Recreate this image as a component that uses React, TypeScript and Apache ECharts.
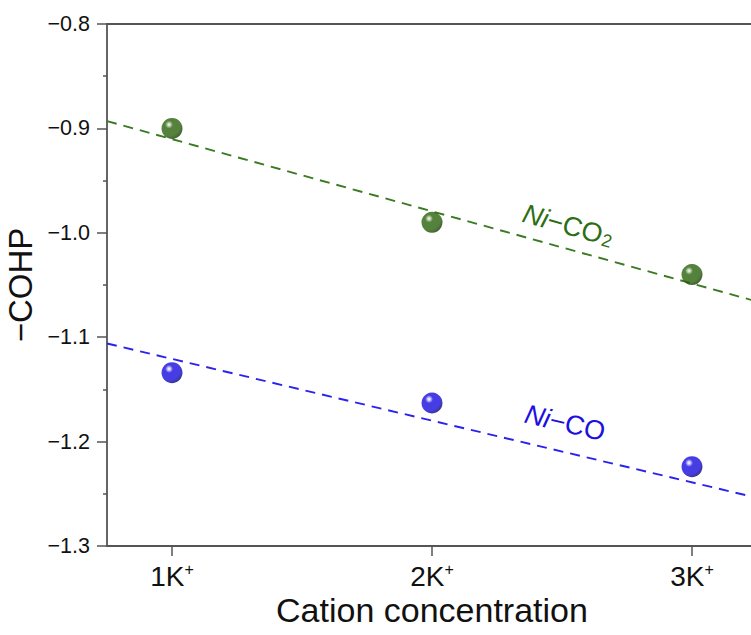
import React, { useEffect, useRef } from "react";
import * as echarts from "echarts";

// Cation concentration positions and their labels
const catPositions = [1, 2, 3];
const catLabels = ["1K", "2K", "3K"];

// −COHP values for each bond
const niCO2Values = [-0.9, -0.99, -1.04];
const niCOValues = [-1.134, -1.163, -1.224];

// dashed trend lines, given by their values at the two ends of the x range
const xRange = [0.75, 4.25];
const niCO2Trend = [-0.893, -1.135];
const niCOTrend = [-1.106, -1.313];

// y axis
const yMin = -1.3;
const yMax = -0.8;
const yStep = 0.1;

const AXIS = "#555555";
const TEXT = "#111111";
const GREEN = { text: "#2c6e14", line: "#3a7a20", hi: "#b8d0a4", base: "#2a620c", dark: "#143603" };
const BLUE = { text: "#1c10e0", line: "#2a22ee", hi: "#c8c4ff", base: "#180cde", dark: "#060270" };
const FONT = "Liberation Sans, Arial, Helvetica, sans-serif";

const sphere = (c: typeof GREEN) =>
  new echarts.graphic.RadialGradient(0.36, 0.32, 0.72, [
    { offset: 0, color: "#ffffff" },
    { offset: 0.09, color: c.hi },
    { offset: 0.26, color: c.base },
    { offset: 0.75, color: c.base },
    { offset: 1, color: c.dark },
  ]);

const pairs = (xs: number[], ys: number[]) => xs.map((x, i) => [x, ys[i]]);

export default function App() {
  const ref = useRef<HTMLDivElement>(null);

  useEffect(() => {
    if (!ref.current) return;
    const chart = echarts.init(ref.current, undefined, { renderer: "svg" });

    // the plot runs on past the right edge of the canvas
    const option: any = {
      animation: false,
      backgroundColor: "#ffffff",
      textStyle: { fontFamily: FONT },
      grid: { left: 107, right: -266, top: 24, bottom: 89, containLabel: false, outerBoundsMode: "none" },
      xAxis: [
        {
          type: "value",
          min: xRange[0],
          max: xRange[1],
          position: "bottom",
          axisLine: { show: true, onZero: false, lineStyle: { color: AXIS, width: 1.8 } },
          axisTick: { show: true, length: 10, customValues: catPositions, lineStyle: { color: AXIS, width: 1.5 } },
          axisLabel: {
            customValues: catPositions,
            margin: 15,
            formatter: (v: number) => {
              const i = catPositions.indexOf(Math.round(v));
              return i < 0 ? "" : `{n|${catLabels[i]}}{s|+}`;
            },
            rich: {
              n: { fontSize: 28, color: TEXT, fontFamily: FONT, lineHeight: 30 },
              s: { fontSize: 16, color: TEXT, fontFamily: FONT, verticalAlign: "top", lineHeight: 30 },
            },
          },
          splitLine: { show: false },
        },
        {
          type: "value",
          min: xRange[0],
          max: xRange[1],
          position: "top",
          axisLine: { show: true, onZero: false, lineStyle: { color: AXIS, width: 1.8 } },
          axisTick: { show: false },
          axisLabel: { show: false },
          splitLine: { show: false },
        },
      ],
      yAxis: {
        type: "value",
        min: yMin,
        max: yMax,
        interval: yStep,
        name: "\u2212COHP",
        nameLocation: "middle",
        nameGap: 67,
        nameRotate: 90,
        nameTextStyle: { fontSize: 33, color: TEXT, fontFamily: FONT },
        axisLine: { show: true, lineStyle: { color: AXIS, width: 1.8 } },
        axisTick: { show: true, length: 10, lineStyle: { color: AXIS, width: 1.5 } },
        minorTick: { show: true, splitNumber: 2, length: 4, lineStyle: { color: AXIS, width: 1.5 } },
        axisLabel: {
          margin: 17,
          fontSize: 21.5,
          color: TEXT,
          fontFamily: FONT,
          formatter: (v: number) => (v < 0 ? "\u2212" : "") + Math.abs(v).toFixed(1),
        },
        splitLine: { show: false },
      },
      series: [
        {
          type: "line",
          data: pairs(xRange, niCO2Trend),
          symbol: "none",
          lineStyle: { color: GREEN.line, width: 1.9, type: [10, 7] },
          z: 1,
        },
        {
          type: "line",
          data: pairs(xRange, niCOTrend),
          symbol: "none",
          lineStyle: { color: BLUE.line, width: 1.9, type: [10, 7] },
          z: 1,
        },
        {
          type: "scatter",
          data: pairs(catPositions, niCO2Values),
          symbol: "circle",
          symbolSize: 21,
          itemStyle: { color: sphere(GREEN) },
          z: 3,
        },
        {
          type: "scatter",
          data: pairs(catPositions, niCOValues),
          symbol: "circle",
          symbolSize: 21,
          itemStyle: { color: sphere(BLUE) },
          z: 3,
        },
      ],
      graphic: [
        {
          type: "text",
          x: 432,
          y: 610,
          z: 10,
          style: {
            text: "Cation concentration",
            fontSize: 34,
            fontFamily: FONT,
            fill: TEXT,
            align: "center",
            verticalAlign: "middle",
          },
        },
        {
          type: "text",
          x: 569,
          y: 222,
          rotation: -0.275,
          z: 10,
          style: {
            text: "{i|Ni}{n|\u2212CO}{s|2}",
            align: "center",
            verticalAlign: "middle",
            rich: {
              i: { fontSize: 27, fontStyle: "italic", fill: GREEN.text, fontFamily: FONT, lineHeight: 34, verticalAlign: "bottom" },
              n: { fontSize: 27, fill: GREEN.text, fontFamily: FONT, lineHeight: 34, verticalAlign: "bottom" },
              s: { fontSize: 18, fill: GREEN.text, fontFamily: FONT, lineHeight: 34, verticalAlign: "bottom", padding: [0, 0, 0, 1] },
            },
          },
        },
        {
          type: "text",
          x: 565,
          y: 423,
          rotation: -0.234,
          z: 10,
          style: {
            text: "{i|Ni}{n|\u2212CO}",
            align: "center",
            verticalAlign: "middle",
            rich: {
              i: { fontSize: 27, fontStyle: "italic", fill: BLUE.text, fontFamily: FONT, lineHeight: 32 },
              n: { fontSize: 27, fill: BLUE.text, fontFamily: FONT, lineHeight: 32 },
            },
          },
        },
      ],
    };

    chart.setOption(option);
    return () => chart.dispose();
  }, []);

  return (
    <div
      ref={ref}
      style={{ position: "fixed", left: 0, top: 0, width: 751, height: 635, background: "#fff" }}
    />
  );
}
